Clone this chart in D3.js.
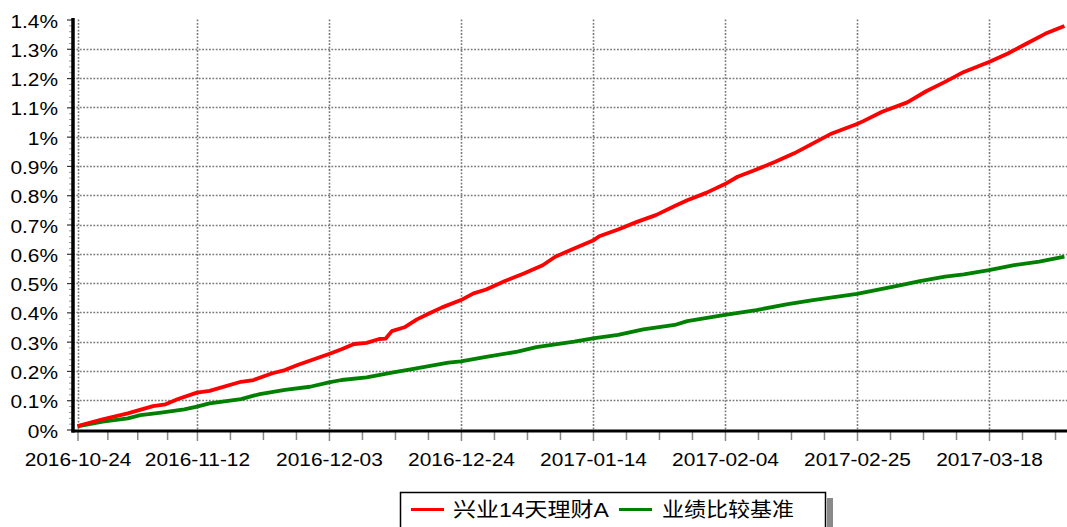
<!DOCTYPE html>
<html>
<head>
<meta charset="utf-8">
<script src="https://cdn.jsdelivr.net/npm/d3@7"></script>
<style>
  html, body { margin: 0; padding: 0; background: #fff; }
  svg { display: block; }
</style>
</head>
<body>
<svg id="chart" width="1067" height="527"></svg>
<script>
// ---- data ----
const seriesNames = ["兴业14天理财A", "业绩比较基准"];
const seriesColors = ["#ff0000", "#008000"];

const redDates = ["2016-10-24","2016-10-28","2016-11-01","2016-11-05","2016-11-07","2016-11-09","2016-11-12","2016-11-14","2016-11-19","2016-11-21","2016-11-24","2016-11-26","2016-11-28","2016-12-03","2016-12-05","2016-12-07","2016-12-09","2016-12-11","2016-12-12","2016-12-13","2016-12-15","2016-12-17","2016-12-19","2016-12-21","2016-12-24","2016-12-26","2016-12-28","2016-12-31","2017-01-03","2017-01-06","2017-01-08","2017-01-11","2017-01-14","2017-01-15","2017-01-18","2017-01-21","2017-01-24","2017-01-27","2017-01-29","2017-02-01","2017-02-04","2017-02-06","2017-02-09","2017-02-12","2017-02-15","2017-02-18","2017-02-21","2017-02-25","2017-02-26","2017-03-01","2017-03-05","2017-03-08","2017-03-11","2017-03-14","2017-03-18","2017-03-21","2017-03-24","2017-03-27","2017-03-30"];
const redValues = [0.012,0.035,0.055,0.080,0.086,0.104,0.126,0.132,0.163,0.169,0.192,0.203,0.220,0.258,0.274,0.292,0.296,0.309,0.310,0.336,0.349,0.376,0.397,0.417,0.442,0.465,0.478,0.507,0.533,0.561,0.590,0.618,0.645,0.660,0.683,0.709,0.732,0.763,0.783,0.808,0.838,0.863,0.888,0.914,0.943,0.977,1.011,1.043,1.053,1.085,1.117,1.155,1.187,1.221,1.255,1.284,1.318,1.352,1.378];

const greenDates = ["2016-10-24","2016-10-28","2016-11-01","2016-11-03","2016-11-06","2016-11-10","2016-11-12","2016-11-14","2016-11-19","2016-11-22","2016-11-26","2016-11-30","2016-12-03","2016-12-05","2016-12-09","2016-12-13","2016-12-16","2016-12-22","2016-12-24","2016-12-28","2017-01-02","2017-01-05","2017-01-11","2017-01-14","2017-01-18","2017-01-22","2017-01-27","2017-01-29","2017-02-04","2017-02-09","2017-02-14","2017-02-18","2017-02-25","2017-02-28","2017-03-04","2017-03-07","2017-03-11","2017-03-14","2017-03-18","2017-03-22","2017-03-26","2017-03-30"];
const greenValues = [0.011,0.027,0.038,0.049,0.057,0.069,0.078,0.089,0.104,0.121,0.135,0.146,0.161,0.169,0.178,0.194,0.205,0.228,0.233,0.248,0.266,0.281,0.300,0.311,0.323,0.342,0.357,0.370,0.391,0.408,0.428,0.442,0.463,0.476,0.493,0.507,0.522,0.530,0.544,0.561,0.573,0.590];

const xTickDates = ["2016-10-24","2016-11-12","2016-12-03","2016-12-24","2017-01-14","2017-02-04","2017-02-25","2017-03-18"];
const yTickValues = [0,0.1,0.2,0.3,0.4,0.5,0.6,0.7,0.8,0.9,1.0,1.1,1.2,1.3,1.4];
const yTickLabels = ["0%","0.1%","0.2%","0.3%","0.4%","0.5%","0.6%","0.7%","0.8%","0.9%","1%","1.1%","1.2%","1.3%","1.4%"];

// ---- layout ----
const parse = d3.timeParse("%Y-%m-%d");
const plotLeft = 73, plotRight = 1067, plotTop = 19.5, plotBottom = 429.5;
const axisY = 431;
const stretch = 1.16;
const fontFamily = "'Liberation Sans', Arial, 'Noto Sans CJK SC', sans-serif";

const svg = d3.select("#chart");

const x = d3.scaleTime()
  .domain([parse("2016-10-24"), parse("2017-03-18")])
  .range([77.5, 989]);
const y = d3.scaleLinear().domain([0, 1.4]).range([plotBottom, plotTop]);

const majorDates = xTickDates.map(parse);
// minor ticks: quarter points between successive major ticks
const minorDates = [];
for (let i = 0; i < majorDates.length; i++) {
  const a = majorDates[i];
  const b = i < majorDates.length - 1 ? majorDates[i + 1]
          : new Date(+a + (+majorDates[i] - +majorDates[i - 1]));
  for (let k = 1; k < 4; k++) {
    const d = new Date(+a + (+b - +a) * k / 4);
    if (x(d) < plotRight) minorDates.push(d);
  }
}

// ---- grid ----
const grid = svg.append("g").attr("stroke", "#7a7a7a").attr("stroke-width", 1.6)
  .attr("stroke-dasharray", "1.8,1.6").attr("fill", "none");
grid.selectAll("line.h").data(yTickValues.filter(v => v > 0 && v < 1.4))
  .join("line").attr("class", "h")
  .attr("x1", plotLeft).attr("x2", plotRight)
  .attr("y1", d => Math.round(y(d)) + 0.5).attr("y2", d => Math.round(y(d)) + 0.5);
grid.selectAll("line.v").data(majorDates)
  .join("line").attr("class", "v")
  .attr("x1", d => Math.round(x(d)) + 0.5).attr("x2", d => Math.round(x(d)) + 0.5)
  .attr("y1", plotTop).attr("y2", plotBottom);

// ---- lines ----
svg.append("clipPath").attr("id", "clip").append("rect")
  .attr("x", plotLeft).attr("y", 0).attr("width", plotRight - plotLeft).attr("height", plotBottom + 2);

const line = d3.line().x(d => x(d[0])).y(d => y(d[1]));
const redData = redDates.map((d, i) => [parse(d), redValues[i]]);
const greenData = greenDates.map((d, i) => [parse(d), greenValues[i]]);

const lines = svg.append("g").attr("clip-path", "url(#clip)");
lines.append("path").datum(greenData).attr("d", line)
  .attr("fill", "none").attr("stroke", seriesColors[1]).attr("stroke-width", 3.8)
  .attr("stroke-linejoin", "round");
lines.append("path").datum(redData).attr("d", line)
  .attr("fill", "none").attr("stroke", seriesColors[0]).attr("stroke-width", 3.8)
  .attr("stroke-linejoin", "round");

// ---- y axis ----
const yMinor = d3.range(0, 141, 2).map(v => v / 100).filter(v => Math.round(v * 100) % 10 !== 0);
svg.append("g").attr("transform", `translate(${plotLeft},0)`)
  .call(d3.axisLeft(y).tickValues(yMinor).tickFormat("").tickSize(4).tickSizeOuter(0))
  .call(g => g.select(".domain").remove())
  .call(g => g.selectAll("line").attr("stroke", "#999").attr("stroke-width", 1));

const yAxisG = svg.append("g").attr("transform", `translate(${plotLeft},0)`)
  .call(d3.axisLeft(y).tickValues(yTickValues)
    .tickFormat((d, i) => yTickLabels[i]).tickSize(6).tickSizeOuter(0));
yAxisG.select(".domain").remove();
yAxisG.selectAll("line").attr("stroke", "#333").attr("stroke-width", 1.2);
yAxisG.selectAll("text")
  .attr("font-family", fontFamily).attr("font-size", 18).attr("fill", "#000")
  .attr("x", -15 / stretch).attr("dy", 7.5)
  .attr("transform", `scale(${stretch},1)`);

// ---- x axis ----
svg.append("g").attr("transform", `translate(0,${axisY})`)
  .call(d3.axisBottom(x).tickValues(minorDates).tickFormat("").tickSize(9).tickSizeOuter(0))
  .call(g => g.select(".domain").remove())
  .call(g => g.selectAll("line").attr("stroke", "#888").attr("stroke-width", 1.5));

const xAxisG = svg.append("g").attr("transform", `translate(0,${axisY})`)
  .call(d3.axisBottom(x).tickValues(majorDates)
    .tickFormat(d3.timeFormat("%Y-%m-%d")).tickSize(10).tickSizeOuter(0));
xAxisG.select(".domain").remove();
xAxisG.selectAll("line").attr("stroke", "#888").attr("stroke-width", 1.5);
xAxisG.selectAll("text")
  .attr("font-family", fontFamily).attr("font-size", 18).attr("fill", "#000")
  .attr("y", 35).attr("dy", 0)
  .attr("transform", `scale(${stretch},1)`);

// axis lines
svg.append("line").attr("x1", plotLeft).attr("x2", plotLeft)
  .attr("y1", 18).attr("y2", axisY + 1.5)
  .attr("stroke", "#000").attr("stroke-width", 3.5);
svg.append("line").attr("x1", plotLeft - 1.5).attr("x2", plotRight)
  .attr("y1", axisY).attr("y2", axisY)
  .attr("stroke", "#000").attr("stroke-width", 3.2);

// ---- legend ----
const leg = svg.append("g");
leg.append("rect").attr("x", 827).attr("y", 498).attr("width", 6).attr("height", 40).attr("fill", "#8a8a8a");
leg.append("rect").attr("x", 400.5).attr("y", 492.5).attr("width", 425).attr("height", 45)
  .attr("fill", "#fff").attr("stroke", "#000").attr("stroke-width", 1.5);
const legItems = [
  { lx: 411, tx: 453, s: 1.15 },
  { lx: 619, tx: 662, s: 1.1 }
];
seriesNames.forEach((name, i) => {
  leg.append("line").attr("x1", legItems[i].lx).attr("x2", legItems[i].lx + 33)
    .attr("y1", 509.5).attr("y2", 509.5)
    .attr("stroke", seriesColors[i]).attr("stroke-width", 3.2);
  leg.append("text")
    .attr("x", legItems[i].tx / legItems[i].s).attr("y", 510)
    .attr("transform", `scale(${legItems[i].s},1)`)
    .attr("dominant-baseline", "central")
    .attr("font-family", fontFamily).attr("font-size", 20).attr("fill", "#000")
    .text(name);
});
</script>
</body>
</html>
